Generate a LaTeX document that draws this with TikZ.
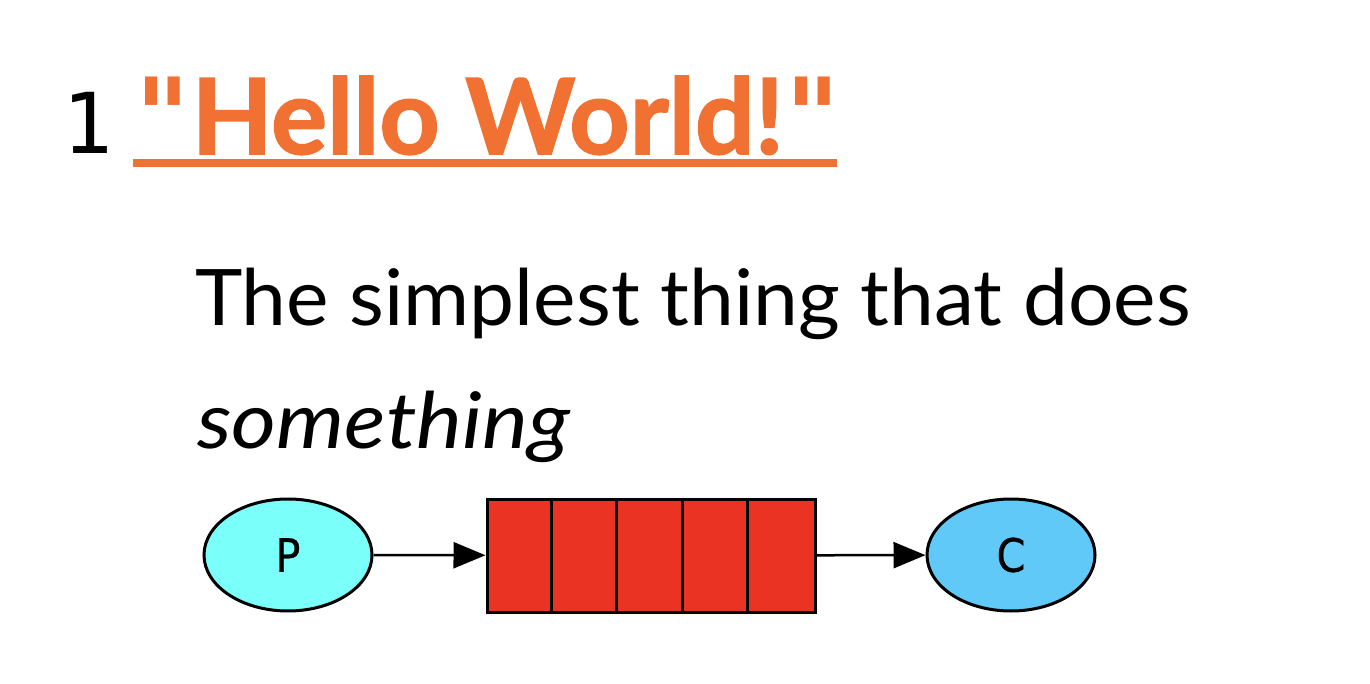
\documentclass[tikz,border=0pt]{standalone}
\usepackage{fontspec}
\setmainfont{Lato}
\newfontfamily\monofont{DejaVu Sans Mono}
\newfontfamily\labelfont[FakeBold=0.6]{DejaVu Sans Condensed}
\newfontfamily\titlefont[FakeBold=1.5]{Lato Bold}
\newfontfamily\quotefont{DejaVu Sans Bold}
\usetikzlibrary{arrows.meta,shapes.geometric}
\definecolor{titleorange}{RGB}{240,113,50}
\definecolor{pcyan}{RGB}{122,255,250}
\definecolor{cblue}{RGB}{96,201,248}
\definecolor{qred}{RGB}{234,51,35}
\tikzset{
  ell/.style={ellipse, draw=black, line width=3pt, minimum width=168pt, minimum height=112pt, inner sep=0pt, font=\labelfont\fontsize{46}{46}\selectfont},
  queuebox/.style={rectangle, draw=black, line width=3pt, fill=qred, minimum width=328pt, minimum height=113pt, inner sep=0pt},
  flow/.style={line width=2.5pt, -{Triangle[length=32pt,width=26pt]}},
  txt/.style={anchor=base west, inner sep=0pt, outer sep=0pt}
}
\begin{document}
\begin{tikzpicture}[x=1pt,y=-1pt]
\useasboundingbox (0,0) rectangle (1370,684);
\fill[white] (0,0) rectangle (1370,684);
\node[txt, font=\monofont\fontsize{84}{84}\selectfont] (num) at (62,154) {1};
\node[txt, font=\titlefont\fontsize{105}{105}\selectfont, text=titleorange] (title) at (135,154) {{\quotefont\char34}\kern2pt Hello World!\kern2pt{\quotefont\char34}};
\fill[titleorange] (133,159) rectangle (837,167);
\node[txt, font=\fontsize{78}{78}\selectfont] (line1) at (195,326) {\scalebox{1.03}[1]{The simplest thing that does}};
\node[txt, font=\itshape\fontsize{78}{78}\selectfont] (line2) at (197,448) {\scalebox{1.11}[1]{something}};
\node[ell, fill=pcyan] (P) at (288,555) {P};
\node[ell, fill=cblue] (C) at (1011,555) {C};
\node[queuebox] (Q) at (651,555.5) {};
\foreach \i in {1,2,3,4} {
  \draw[line width=3pt] ([xshift=\i*65.6pt]Q.north west) -- ([xshift=\i*65.6pt]Q.south west);
}
\draw[flow] (P) -- (Q);
\draw[flow] (Q) -- (C);
\end{tikzpicture}
\end{document}
